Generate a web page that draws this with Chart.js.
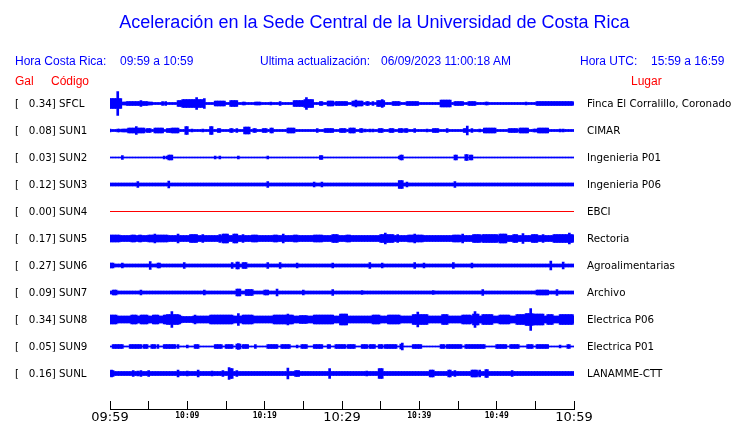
<!DOCTYPE html>
<html lang="es">
<head>
<meta charset="UTF-8">
<title>Aceleración en la Sede Central de la Universidad de Costa Rica</title>
<script src="https://cdn.jsdelivr.net/npm/chart.js"></script>
<style>
  body { margin: 0; background: #fff; }
  #marco { position: relative; width: 740px; height: 423px; font-family: "Liberation Sans", Arial, sans-serif; }
  #sismo { position: absolute; left: 0; top: 0; }
  .txt { position: absolute; white-space: pre; line-height: 1; font-size: 12px; color: #0000ff; }
  .rojo { color: #ff0000; }
  #titulo { font-size: 18px; left: 0; width: 749px; text-align: center; top: 13px; }
</style>
</head>
<body>
<div id="marco">
  <canvas id="sismo" width="740" height="423"></canvas>
  <div class="txt" id="titulo">Aceleración en la Sede Central de la Universidad de Costa Rica</div>
  <div class="txt" style="left:15px; top:55px">Hora Costa Rica:</div>
  <div class="txt" style="left:120px; top:55px">09:59 a 10:59</div>
  <div class="txt" style="left:260px; top:55px">Ultima actualización:</div>
  <div class="txt" style="left:381px; top:55px">06/09/2023 11:00:18 AM</div>
  <div class="txt" style="left:580px; top:55px">Hora UTC:</div>
  <div class="txt" style="left:651px; top:55px">15:59 a 16:59</div>
  <div class="txt rojo" style="left:15px; top:75px">Gal</div>
  <div class="txt rojo" style="left:51px; top:75px">Código</div>
  <div class="txt rojo" style="left:631px; top:75px">Lugar</div>
</div>

<script>
// estaciones de arriba hacia abajo
const estaciones = ['SFCL', 'SUN1', 'SUN2', 'SUN3', 'SUN4', 'SUN5', 'SUN6', 'SUN7', 'SUN8', 'SUN9', 'SUNL'];
const picoGal = [0.34, 0.08, 0.03, 0.12, 0.00, 0.17, 0.27, 0.09, 0.34, 0.05, 0.16];
const lugares = ['Finca El Corralillo, Coronado', 'CIMAR', 'Ingenieria P01', 'Ingenieria P06', 'EBCI',
                 'Rectoria', 'Agroalimentarias', 'Archivo', 'Electrica P06', 'Electrica P01', 'LANAMME-CTT'];
const etiquetasHora = ['09:59', '10:09', '10:19', '10:29', '10:39', '10:49', '10:59'];

// amplitud de fondo de cada traza
const amplitudBase = [1, 1, 0.5, 1.5, 0, 3, 1.5, 1.5, 3.5, 0.5, 2];

// rafagas: [minuto inicio, minuto fin, semiamplitud]
const rafagasSFCL = [[0.0,1.4,5],[0.3,0.3,9],[1.0,1.0,12],[1.4,2.2,1.5],[2.2,4.8,2],[4.0,4.0,3],[4.9,5.4,1.5],[6.8,6.8,2],[7.2,7.2,2],
  [8.8,9.3,3],[9.4,12.0,4],[10.3,10.3,5],[11.2,11.2,6],[11.5,11.5,5],[12.2,12.2,5],[12.7,12.7,2],[13.6,14.9,2.5],[14.5,14.5,3],
  [15.5,16.4,3],[17.2,17.4,1.5],[18.7,19.4,1.5],[20.8,20.8,1.5],[22.0,22.0,2],[23.7,25.0,3],[24.3,24.3,4],[25.2,26.2,4],[25.4,25.4,6],
  [27.2,27.5,2],[28.1,28.8,2.5],[29.1,29.8,2],[30.0,30.6,2],[30.5,30.5,3],[31.3,32.6,2.5],[31.8,31.8,3.5],[33.1,33.4,2],[34.0,34.0,2],
  [34.6,35.5,3],[35.2,35.2,4],[36.5,37.5,2],[38.4,39.8,2],[40.5,40.5,2],[41.3,41.3,2],[42.3,42.3,1.5],[42.7,44.0,3.5],[43.7,43.7,4.5],
  [44.6,45.6,2],[46.3,47.3,2],[48.6,48.9,1.5],[52.1,52.1,2.5],[53.8,53.8,1.5],[54.7,54.7,2],[55.1,59.0,2],[57.3,57.3,2.5],[59.2,59.9,2]];
const rafagasSUN1 = [[0.0,0.0,1.5],[1.0,1.3,1.5],[1.6,2.2,1.5],[2.3,4.5,2.5],[2.7,2.7,3],[3.4,3.4,4],[4.8,5.2,2],[5.8,6.9,2.5],[7.4,7.8,2],
  [8.0,8.8,2.5],[9.1,9.1,2],[9.8,10.0,4],[10.6,10.6,1.5],[12.0,12.0,1.5],[12.9,13.2,4],[14.0,14.2,2],[15.5,15.9,2],[16.4,16.4,2],
  [17.3,18.1,3.5],[18.5,18.8,2],[19.8,20.3,2],[20.8,21.1,2.5],[21.9,21.9,2],[22.9,23.9,2.5],[24.3,24.3,1.5],[25.5,25.5,2],[26.8,26.8,2],
  [27.8,28.8,2],[29.5,29.5,2.5],[29.7,30.4,2],[30.9,31.7,2.5],[32.3,32.6,2],[33.0,33.0,1.5],[33.6,33.6,1.5],[34.0,34.0,1.5],[34.7,35.2,2],
  [35.3,35.3,3],[36.2,36.6,2],[37.1,37.1,3],[37.4,37.8,2],[38.2,38.4,2],[39.1,39.1,2],[39.4,39.4,2],[41.0,41.0,1.5],[41.8,42.4,2],
  [42.9,42.9,2],[43.6,43.6,2],[45.8,46.3,2],[46.2,46.2,4.5],[46.8,46.9,2],[47.8,47.8,1.5],[48.4,49.8,2.5],[51.6,52.6,2],[53.0,54.1,2.5],
  [53.7,53.7,3.5],[54.7,55.2,1.5],[55.3,56.6,2.5],[57.3,57.3,2],[58.2,58.2,1.5],[58.6,58.6,1.5],[59.5,59.5,2]];
const rafagasSUN2 = [[1.6,1.6,2],[1.7,1.7,1.5],[3.1,3.1,2.5],[7.0,7.0,1.5],[7.4,7.4,1.5],[7.6,8.0,2.5],[13.6,13.6,1.5],[14.2,14.2,1.5],
  [15.3,15.3,2],[16.6,16.6,1.5],[20.4,20.4,1.5],[20.9,20.9,1.5],[25.5,25.5,2],[27.2,27.4,2],[28.1,28.1,1.5],[34.3,34.3,2],[34.7,34.7,2],
  [37.4,37.4,1.5],[37.6,37.9,2.5],[44.6,44.9,2.5],[45.5,45.5,2],[46.0,46.3,3],[46.6,46.9,2.5],[48.1,48.1,1.5],[52.5,52.5,2],
  [52.9,52.9,1.5],[55.1,55.1,2],[58.5,58.5,1.5]];
const rafagasSUN3 = [[1.7,1.7,3.5],[3.1,3.1,3],[3.6,3.6,3],[3.9,3.9,3],[7.6,7.6,3.5],[9.3,9.3,2.5],[20.4,20.4,3],[20.9,20.9,3],
  [25.5,25.5,3],[26.4,26.4,2.5],[27.4,27.4,2.5],[34.3,34.3,2.5],[36.5,36.5,2.5],[37.4,37.9,4],[38.4,38.4,2.5],[44.6,44.6,3],
  [46.3,46.3,4.5],[46.7,46.7,2.5],[52.5,52.5,2.5]];
const rafagasSUN4 = [];
const rafagasSUN5 = [[0.0,1.3,3.5],[0.5,0.5,4.5],[2.8,3.2,3.5],[3.8,4.1,3.5],[4.9,7.4,3.5],[5.8,5.8,4.5],[7.1,7.1,6],[7.5,7.5,4.5],[8.8,8.8,4.5],
  [10.3,11.3,4],[10.7,10.7,5],[12.0,12.0,4],[14.2,14.2,4],[14.6,15.3,4.5],[14.9,14.9,6],[15.5,15.5,5],[15.9,16.4,4.5],[17.2,17.2,4],
  [18.4,19.0,3.5],[21.1,21.7,3.5],[22.4,22.4,4.5],[23.7,24.2,3.5],[26.3,27.4,3.5],[28.7,29.4,4],[30.6,31.0,3.5],
  [34.9,36.6,4],[35.6,35.6,5.5],[37.2,37.2,4],[38.5,40.5,3.5],[39.4,39.4,4.5],[44.4,45.3,3.5],[45.6,45.6,4.5],
  [46.9,47.8,4],[48.2,50.0,4],[49.1,49.1,5],[50.4,51.3,4.5],[51.1,51.1,5.5],[52.1,52.6,4],[53.4,53.4,5],[54.6,55.2,4],[56.0,56.0,4],
  [57.3,59.9,4],[59.4,59.4,5.5]];
const rafagasSUN6 = [[0.0,0.4,2.5],[1.6,1.6,2.5],[5.2,5.2,4],[5.3,5.3,8],[6.2,6.5,2.5],[6.9,6.9,2],[9.6,9.6,3],[9.7,9.7,8.5],
  [15.1,15.1,3],[15.8,15.8,3],[16.4,16.7,3.5],[17.2,17.7,3],[17.5,17.5,9.5],[20.4,20.4,3],[22.0,22.0,3],[24.2,24.2,2.5],[28.8,28.8,2.5],
  [31.7,31.7,2.5],[33.6,33.6,3],[35.2,35.2,2.5],[37.1,37.1,2.5],[39.4,39.4,3],[40.6,40.6,2.5],[44.4,44.4,3],[46.8,46.8,2.5],
  [51.3,51.3,3],[57.0,57.0,4.5],[57.9,57.9,3],[58.6,58.6,3.5]];
const rafagasSUN7 = [[0.3,0.9,2.5],[0.9,0.9,3],[3.5,3.5,2.5],[4.0,4.0,2.5],[7.5,7.5,3],[9.7,9.7,2],[12.2,12.2,2.5],[16.4,16.8,3.5],
  [17.5,18.4,3],[18.1,18.1,4],[20.0,20.4,2.5],[21.6,21.6,3.5],[25.0,25.0,2.5],[28.8,28.8,3],[32.6,32.6,2],[35.9,35.9,2.5],
  [40.5,40.5,2],[41.8,41.8,2],[45.1,45.1,3],[47.5,47.5,3],[48.2,48.2,3],[55.2,56.6,2.5],[57.8,57.8,3]];
const rafagasSUN8 = [[0.0,0.9,4.5],[2.8,3.5,4.5],[3.9,4.8,4.5],[5.6,6.2,4.5],[6.9,9.1,4.5],[7.4,8.8,5],[8.0,8.0,8],[9.4,10.6,3],
  [11.0,11.0,4.5],[12.9,15.9,4.5],[16.6,16.6,6],[17.2,18.5,4.5],[17.7,17.7,5.5],[21.1,23.7,4.5],[23.0,23.0,5.5],[24.6,25.5,4],
  [26.3,28.8,4.5],[26.9,26.9,6],[29.5,29.5,7],[29.7,30.6,5.5],[34.0,34.9,4.5],[35.9,37.5,4.5],[39.2,41.0,5],[39.8,39.8,7.5],
  [42.9,43.6,5],[44.9,44.9,6.5],[45.6,46.6,4.5],[46.9,47.6,5.5],[47.2,47.2,8],[48.2,49.5,5],[48.9,48.9,11.5],[50.4,51.7,4.5],
  [52.6,53.9,5],[53.3,53.3,7],[53.7,54.6,6],[54.1,54.1,9],[54.4,54.4,11],[54.7,56.0,5.5],[56.5,57.3,5],[58.2,59.9,5],[59.5,59.5,7],[59.9,59.9,12]];
const rafagasSUN9 = [[0.3,0.9,2],[1.0,1.7,2],[2.6,4.1,2],[4.3,4.9,2],[5.4,5.8,2],[6.2,6.2,2],[6.9,8.4,2],[8.8,8.8,2],[10.0,10.0,1.5],
  [11.0,11.4,2],[11.9,11.9,1.5],[12.7,12.7,2],[13.6,14.5,2],[14.9,15.8,2],[16.4,16.8,2.5],[16.6,16.6,3],[17.2,17.8,2],[18.8,18.8,2],
  [20.3,21.6,2],[22.2,23.3,2],[24.2,24.2,1.5],[24.8,25.5,2],[26.3,27.4,2],[28.1,28.4,2],[29.1,30.4,2],[30.8,31.7,2],[32.6,33.2,2],
  [33.6,34.3,2],[34.7,35.2,2],[35.6,37.1,2],[37.5,37.9,2.5],[37.8,37.8,3.5],[39.2,40.3,2],[40.7,40.7,1.5],[41.9,41.9,1.5],
  [42.7,43.3,2],[43.6,44.4,2],[44.6,45.5,2],[45.9,48.5,2],[49.1,49.1,1.5],[50.0,51.3,2],[51.7,52.8,2],[53.9,54.6,2],[55.2,56.6,2],
  [57.3,57.3,1.5],[58.2,58.2,1.5],[59.1,59.5,2],[59.9,59.9,1.5]];
const rafagasSUNL = [[0.0,0.4,3],[0.2,0.2,3.5],[0.9,0.9,3],[1.9,1.9,2.5],[2.3,2.3,2.5],[3.0,3.0,3],[3.6,3.6,2.5],[4.0,4.0,3],[5.0,5.0,3],
  [8.1,8.1,4],[8.7,8.9,3.5],[10.0,10.0,2.5],[10.3,10.3,4],[11.4,11.4,3.5],[13.2,13.2,2.5],[14.5,14.5,2.5],[14.6,14.6,3],[15.3,15.8,5],
  [15.4,15.4,6],[16.4,16.4,3],[17.3,17.3,3],[19.9,19.9,4],[21.1,21.1,3],[23.0,23.0,5.5],[23.9,24.4,3],[25.5,25.5,2.5],[28.4,28.4,5],
  [33.2,33.2,2.5],[34.7,35.2,5],[34.9,34.9,6.5],[36.5,36.5,3],[37.5,37.5,3],[41.4,41.8,3.5],[43.7,44.0,3.5],[44.6,44.6,3],
  [46.8,47.5,3.5],[46.9,46.9,4],[47.8,47.8,3.5],[48.5,48.8,4],[50.3,50.3,3],[52.0,52.0,3],[55.5,55.5,2.5],[59.1,59.1,4.5]];

const rafagas = [rafagasSFCL, rafagasSUN1, rafagasSUN2, rafagasSUN3, rafagasSUN4, rafagasSUN5,
                 rafagasSUN6, rafagasSUN7, rafagasSUN8, rafagasSUN9, rafagasSUNL];

const SEPARACION = 27;   // distancia entre trazas, en unidades del eje y
const PASO = 0.2;        // minutos por muestra
const MINUTOS = 60;
const N = estaciones.length;
const centros = estaciones.map((s, i) => (N - 1 - i) * SEPARACION);

// cada muestra toma la mayor rafaga que la cubre, o la amplitud base si no hay ninguna
function muestras(base, lista, centro) {
  const out = [];
  for (let k = 0; k <= MINUTOS / PASO; k++) {
    const t = k * PASO;
    let a = null;
    for (const [t0, t1, amp] of lista) {
      if (t >= t0 - PASO * 0.49 && t <= t1 + PASO * 0.49 && (a === null || amp > a)) a = amp;
    }
    if (a === null) a = base;
    if (a > 0) out.push({ x: t, y: [centro - a, centro + a] });
  }
  return out;
}

const datasets = [];
estaciones.forEach((s, i) => {
  if (picoGal[i] === 0) {
    // estacion sin datos: linea roja plana
    datasets.push({
      type: 'line', label: s,
      data: [{ x: 0, y: centros[i] }, { x: MINUTOS, y: centros[i] }],
      borderColor: '#ff0000', borderWidth: 1, pointRadius: 0
    });
  } else {
    datasets.push({
      type: 'bar', label: s,
      data: muestras(amplitudBase[i], rafagas[i], centros[i]),
      backgroundColor: '#0000ff', borderWidth: 0,
      grouped: false, barThickness: 2
    });
  }
});

// linea horizontal bajo las marcas del eje de tiempo
const lineaEje = {
  id: 'lineaEje',
  afterDraw(chart) {
    const sx = chart.scales.x, ctx = chart.ctx;
    const y = Math.floor(sx.top + sx.options.grid.tickLength) + 0.5;
    ctx.save();
    ctx.strokeStyle = '#000';
    ctx.lineWidth = 1;
    ctx.beginPath();
    ctx.moveTo(sx.left, y);
    ctx.lineTo(sx.right + 1, y);
    ctx.stroke();
    ctx.restore();
  }
};

const fuenteEtiqueta = { family: 'DejaVu Sans', size: 10.3 };

new Chart(document.getElementById('sismo'), {
  type: 'bar',
  data: { datasets: datasets },
  plugins: [lineaEje],
  options: {
    responsive: false,
    animation: false,
    events: [],
    layout: { padding: { top: 76.5, left: 15, right: 0, bottom: 0 } },
    plugins: { legend: { display: false }, tooltip: { enabled: false } },
    scales: {
      x: {
        type: 'linear', min: 0, max: MINUTOS, offset: false,
        afterFit: (s) => { s.height = 22.5; },
        border: { display: false },
        grid: { drawOnChartArea: false, offset: false, tickLength: 9, color: '#000', lineWidth: 1 },
        ticks: {
          stepSize: 5, autoSkip: false, maxRotation: 0, padding: 0, color: '#000',
          callback: (v) => (v % 10 === 0 ? etiquetasHora[v / 10] : ''),
          font: (c) => (c.tick && c.tick.value % 30 === 0)
            ? { family: 'DejaVu Sans', size: 13 }
            : { family: 'DejaVu Sans Mono', size: 8, weight: 'bold', lineHeight: 1.6 }
        }
      },
      y: {
        type: 'linear', position: 'left', min: -SEPARACION, max: N * SEPARACION,
        afterFit: (s) => { s.width = 95; },
        afterBuildTicks: (s) => { s.ticks = centros.map(v => ({ value: v })); },
        border: { display: false },
        grid: { display: false, drawTicks: false },
        ticks: {
          crossAlign: 'far', color: '#000', font: fuenteEtiqueta, autoSkip: false, labelOffset: 0.5,
          callback: (v) => {
            const i = centros.indexOf(v);
            return '[' + picoGal[i].toFixed(2).padStart(7, ' ') + '] ' + estaciones[i];
          }
        }
      },
      y2: {
        type: 'linear', position: 'right', min: -SEPARACION, max: N * SEPARACION,
        afterFit: (s) => { s.width = 166; },
        afterBuildTicks: (s) => { s.ticks = centros.map(v => ({ value: v })); },
        border: { display: false },
        grid: { display: false, drawTicks: false },
        ticks: {
          padding: 13, color: '#000', font: fuenteEtiqueta, autoSkip: false, labelOffset: 0.5,
          callback: (v) => lugares[centros.indexOf(v)]
        }
      }
    }
  }
});
</script>
</body>
</html>
